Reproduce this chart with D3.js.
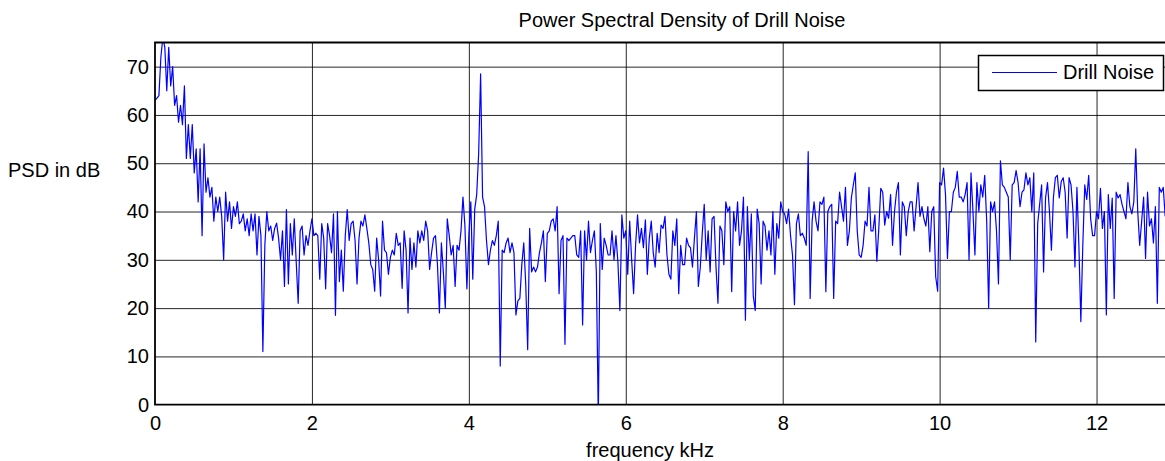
<!DOCTYPE html>
<html>
<head>
<meta charset="utf-8">
<script src="https://cdn.jsdelivr.net/npm/d3@7"></script>
<style>
  body { margin: 0; background: #fff; }
  svg text { font-family: "Liberation Sans", Arial, sans-serif; fill: #000; }
</style>
</head>
<body>
<div id="chart"></div>
<script>
// labels
const chartTitle = "Power Spectral Density of Drill Noise";
const xLabel = "frequency kHz";
const yLabel = "PSD in dB";
const seriesName = "Drill Noise";

// ticks
const xTicks = [0, 2, 4, 6, 8, 10, 12];
const yTicks = [0, 10, 20, 30, 40, 50, 60, 70];

// PSD bins, one every 0.025 kHz starting at 0
const freqStep = 0.025;
const psdDb = [
  63, 63.5, 64, 72, 76, 74, 65, 74, 66, 70,
  62, 64, 58.5, 62, 58, 66, 51, 58, 51, 58,
  48, 53, 42, 53, 35, 54, 44, 47, 43, 45,
  38, 43, 40, 43, 39, 30, 44, 38, 42, 36.5,
  41, 39, 42, 37.5, 38, 39.5, 36, 38.5, 35, 39.5,
  36, 39.5, 31, 39, 35, 11, 33, 40, 36, 37,
  34, 36.5, 37.6, 34.5, 30, 36, 24.5, 40.4, 25, 37.5,
  31, 38.5, 29.5, 21, 36, 37, 31, 35, 33, 36,
  38.5, 35, 35.5, 35, 26, 37.5, 34.5, 24, 37.5, 35,
  31.5, 39.5, 18.5, 40, 25.5, 32, 23.5, 35, 40.4, 34,
  37.5, 38, 34, 25, 34.5, 38, 37, 39.3, 36.5, 33.5,
  29, 28, 23.5, 34.5, 30, 22.5, 38, 32, 31.5, 27,
  30.5, 32, 31, 35.5, 33, 33.5, 24.1, 36, 32, 19,
  34.5, 28, 33.5, 28.5, 36, 33.5, 36, 34, 38, 36,
  28, 31.5, 34.5, 35, 29, 19, 33.5, 27.5, 20, 38.5,
  35, 31, 33, 24.5, 33, 32, 36, 43, 37, 24,
  35, 42, 26, 40.5, 43.5, 52, 68.5, 43, 41, 34,
  29, 32, 34, 33, 35, 38, 8, 32, 31.5, 33.5,
  34.5, 31.5, 33.5, 31.5, 18.6, 21.5, 22, 29, 33.5, 25,
  11.4, 36.5, 27.5, 28.5, 27.5, 28.5, 31.5, 33.5, 36, 25.5,
  35.5, 36, 38, 38.5, 36, 41, 23, 34, 35, 12.5,
  34.5, 34, 34.5, 35, 35, 31, 30.5, 36, 16.5, 36,
  30, 38, 31.5, 34, 36, 27.5, -3, 37.5, 28, 34.5,
  33, 31, 31, 36, 30, 35, 29.5, 19.5, 39.3, 34.5,
  36, 27, 38, 30, 23, 33, 39.3, 33.5, 36.5, 32.5,
  38.3, 27, 34.5, 38, 31.5, 28.5, 35.5, 31.5, 37.2, 36.5,
  39, 31, 27, 26, 36, 33, 38.5, 23, 33, 29,
  29, 34.5, 33, 32.5, 28.5, 34.5, 40, 24.5, 28.5, 35.5,
  41.5, 30, 36, 27.5, 38.5, 39, 28.5, 21, 37, 36,
  29, 42, 40, 41, 23.4, 40, 36, 42, 33, 36,
  43, 17.5, 41, 30, 39.5, 22.5, 19.5, 40.5, 37.5, 25,
  38, 37, 32, 36, 31, 40, 27, 37.5, 34.5, 42,
  40, 39.5, 37.5, 40.5, 35, 31, 20.7, 37.5, 39.5, 35,
  35.5, 34.5, 33, 52.4, 22, 38, 42, 38, 36, 42,
  41.5, 43, 23.4, 40, 41, 41.5, 22, 38, 37.5, 44,
  41, 38, 45, 33, 36, 42.8, 45.5, 48, 36, 31,
  30.5, 33, 38, 37, 45, 36, 36, 39.3, 29.7, 36.5,
  44.8, 44, 37.2, 40, 38.6, 43.5, 33, 40, 44, 46,
  31, 42, 41, 35, 40, 42, 42, 36, 41, 46,
  39, 41, 38.5, 37, 41, 31.7, 40, 41, 26.5, 23.5,
  46, 45.5, 49, 43.5, 30.3, 40, 40, 44, 45, 48.3,
  43, 43, 42, 43.5, 46, 30, 48, 40, 31, 46,
  40, 45.5, 43, 47.5, 38, 20, 42, 40, 42, 36,
  25, 50.5, 45.5, 45, 44, 43, 30, 45.5, 46, 48.5,
  46, 41, 44, 44.5, 48, 45.5, 47, 40, 48, 13,
  37.5, 41.5, 45.5, 27.5, 42.8, 46, 40, 32, 42.8, 47,
  47.5, 42.8, 46.2, 47, 44, 34.5, 47, 45.5, 40, 28.5,
  45, 33, 17.2, 33, 45.5, 42.5, 47.5, 38.5, 35, 35,
  40, 38.5, 44.8, 36.5, 40, 18.6, 43.5, 36.5, 42.8, 22,
  44, 42.8, 43.5, 41.5, 40, 38.5, 46, 41, 39.5, 42,
  53, 40, 33, 38, 43, 30.3, 44, 37, 38.5, 33.5,
  41, 21, 45, 44, 45, 39
];

const width = 1165;
const height = 461;
// the axes box runs a little past the right edge of the window
const plot = { left: 155, right: 1175, top: 42.5, bottom: 404.7 };

const x = d3.scaleLinear().domain([0, 13]).range([plot.left, plot.right]);
const y = d3.scaleLinear().domain([0, 75]).range([plot.bottom, plot.top]);

const svg = d3.select("#chart")
  .append("svg")
  .attr("width", width)
  .attr("height", height)
  .style("display", "block");

svg.append("rect")
  .attr("width", width)
  .attr("height", height)
  .attr("fill", "#fff");

// grid lines (drawn with the axis generators, labels off)
svg.append("g")
  .attr("class", "grid")
  .attr("transform", "translate(0," + plot.bottom + ")")
  .call(d3.axisBottom(x)
    .tickValues(xTicks.slice(1))
    .tickSize(-(plot.bottom - plot.top))
    .tickFormat(""));

svg.append("g")
  .attr("class", "grid")
  .attr("transform", "translate(" + plot.left + ",0)")
  .call(d3.axisLeft(y)
    .tickValues(yTicks.slice(1))
    .tickSize(-(plot.right - plot.left))
    .tickFormat(""));

svg.selectAll(".grid .domain").remove();
svg.selectAll(".grid line")
  .attr("stroke", "#000")
  .attr("stroke-width", 1)
  .attr("stroke-opacity", 0.85);

// tick labels
const xAxis = svg.append("g")
  .attr("transform", "translate(0," + plot.bottom + ")")
  .call(d3.axisBottom(x).tickValues(xTicks).tickSize(0).tickPadding(11));

const yAxis = svg.append("g")
  .attr("transform", "translate(" + plot.left + ",0)")
  .call(d3.axisLeft(y).tickValues(yTicks).tickSize(0).tickPadding(6));

[xAxis, yAxis].forEach(g => {
  g.select(".domain").remove();
  g.selectAll("text")
    .style("font-size", "20px")
    .attr("fill", "#000");
});

// the PSD trace, clipped to the axes box
svg.append("clipPath")
  .attr("id", "plot-clip")
  .append("rect")
  .attr("x", plot.left)
  .attr("y", plot.top)
  .attr("width", plot.right - plot.left)
  .attr("height", plot.bottom - plot.top);

const line = d3.line()
  .x((d, i) => x(i * freqStep))
  .y(d => y(d));

svg.append("path")
  .datum(psdDb)
  .attr("clip-path", "url(#plot-clip)")
  .attr("fill", "none")
  .attr("stroke", "#0000ff")
  .attr("stroke-width", 1.2)
  .attr("stroke-linejoin", "round")
  .attr("d", line);

// axes box
svg.append("path")
  .attr("d", "M" + plot.right + "," + plot.top +
    "H" + plot.left + "V" + plot.bottom + "H" + plot.right)
  .attr("fill", "none")
  .attr("stroke", "#000")
  .attr("stroke-width", 1.8);

// legend
const legend = svg.append("g");
legend.append("rect")
  .attr("x", 978.5)
  .attr("y", 55.5)
  .attr("width", 185)
  .attr("height", 35)
  .attr("fill", "#fff")
  .attr("stroke", "#000")
  .attr("stroke-width", 1.5);
legend.append("line")
  .attr("x1", 992)
  .attr("x2", 1057)
  .attr("y1", 72.5)
  .attr("y2", 72.5)
  .attr("stroke", "#0000ff")
  .attr("stroke-width", 1.2);
legend.append("text")
  .attr("x", 1063)
  .attr("y", 79)
  .style("font-size", "20px")
  .text(seriesName);

// titles
svg.append("text")
  .attr("x", 682)
  .attr("y", 27)
  .attr("text-anchor", "middle")
  .style("font-size", "20px")
  .text(chartTitle);

svg.append("text")
  .attr("x", 650)
  .attr("y", 457)
  .attr("text-anchor", "middle")
  .style("font-size", "20px")
  .text(xLabel);

svg.append("text")
  .attr("x", 8)
  .attr("y", 177)
  .style("font-size", "20px")
  .text(yLabel);
</script>
</body>
</html>
